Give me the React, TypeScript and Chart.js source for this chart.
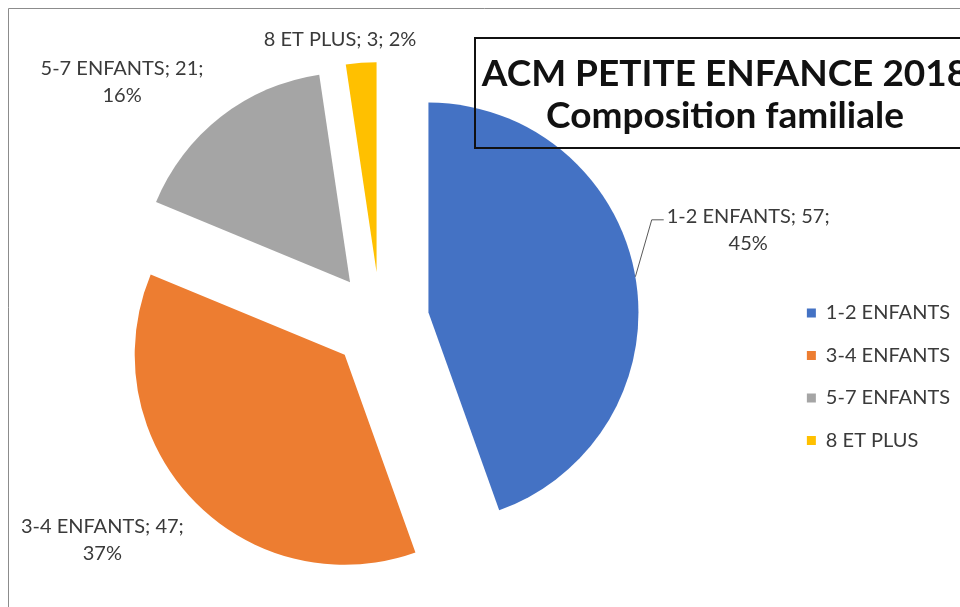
import React, { useEffect, useRef } from 'react';
import { Chart, registerables, ArcElement, PieController } from 'chart.js';

Chart.register(...registerables);

// ---------- data ----------
const CATEGORIES = ['1-2 ENFANTS', '3-4 ENFANTS', '5-7 ENFANTS', '8 ET PLUS'];
const VALUES = [57, 47, 21, 3];
const COLORS = ['#4472C4', '#ED7D31', '#A5A5A5', '#FFC000'];
const TITLE_LINES = ['ACM PETITE ENFANCE 2018', 'Composition familiale'];
const LABEL_TWO_LINES = [true, true, true, false];
const LABEL_LEADER = [true, false, false, false];

// ---------- layout / style ----------
const W = 960;
const H = 607;
const SHIFT = 40; // canvas extends 40px to the left of the page
const CW = W + SHIFT;
const PIE_RADIUS = 210;
const EXPLODE = 49;
const LABEL_DIST = [379, 354, 352, 284];
const LABEL_ANGLE_SHIFT = [-4, 5.3, -9.2, -3.9];
const FONT = 'Lato, "Open Sans", sans-serif';
const TEXT_COLOR = '#3a3a3a';

class ExplodedArc extends ArcElement {
  static id = 'explodedArc';
  draw(ctx: CanvasRenderingContext2D) {
    const self: any = this;
    const { x, y, startAngle, endAngle, outerRadius, options } = self;
    const off = options.offset || 0;
    const mid = (startAngle + endAngle) / 2;
    const cx = x + Math.cos(mid) * off;
    const cy = y + Math.sin(mid) * off;
    ctx.save();
    ctx.beginPath();
    ctx.moveTo(cx, cy);
    ctx.arc(cx, cy, outerRadius, startAngle, endAngle);
    ctx.closePath();
    ctx.fillStyle = options.backgroundColor;
    ctx.fill();
    ctx.restore();
  }
}

class ExplodedPieController extends PieController {
  static id = 'explodedPie';
  static defaults = { dataElementType: 'explodedArc' };
}

Chart.register(ExplodedArc as any, ExplodedPieController as any);

const framePlugin = {
  id: 'frame',
  beforeDraw(chart: any) {
    const ctx = chart.ctx;
    ctx.save();
    ctx.fillStyle = '#ffffff';
    ctx.fillRect(0, 0, CW, H);
    ctx.strokeStyle = '#8c8c8c';
    ctx.lineWidth = 1;
    ctx.beginPath();
    ctx.moveTo(SHIFT + 8.5, H);
    ctx.lineTo(SHIFT + 8.5, 8.5);
    ctx.lineTo(CW, 8.5);
    ctx.stroke();
    ctx.restore();
  },
};

const labelsPlugin = {
  id: 'sliceLabels',
  afterDatasetsDraw(chart: any) {
    const ctx = chart.ctx;
    const meta = chart.getDatasetMeta(0);
    const total = VALUES.reduce((a, b) => a + b, 0);
    ctx.save();
    ctx.font = `20px ${FONT}`;
    ctx.fillStyle = TEXT_COLOR;
    ctx.textAlign = 'center';
    ctx.textBaseline = 'middle';
    meta.data.forEach((arc: any, i: number) => {
      const { x, y, startAngle, endAngle, outerRadius } = arc;
      const mid = (startAngle + endAngle) / 2;
      const a = mid + (LABEL_ANGLE_SHIFT[i] * Math.PI) / 180;
      const cx = x + Math.cos(a) * LABEL_DIST[i];
      const cy = y + Math.sin(a) * LABEL_DIST[i];
      const pct = Math.round((VALUES[i] / total) * 100) + '%';
      const lines = LABEL_TWO_LINES[i]
        ? [`${CATEGORIES[i]}; ${VALUES[i]};`, pct]
        : [`${CATEGORIES[i]}; ${VALUES[i]}; ${pct}`];
      const lh = 27;
      const y0 = cy - ((lines.length - 1) * lh) / 2;
      lines.forEach((t, k) => ctx.fillText(t, cx, y0 + k * lh));
      if (LABEL_LEADER[i]) {
        const w0 = ctx.measureText(lines[0]).width;
        const lx = cx - w0 / 2 - 3;
        const ly = y0 + 3;
        const ex = x + Math.cos(mid) * (EXPLODE + outerRadius);
        const ey = y + Math.sin(mid) * (EXPLODE + outerRadius);
        ctx.strokeStyle = '#595959';
        ctx.lineWidth = 1;
        ctx.beginPath();
        ctx.moveTo(ex, ey);
        ctx.lineTo(lx - 12, ly);
        ctx.lineTo(lx, ly);
        ctx.stroke();
      }
    });
    ctx.restore();
  },
};

const titlePlugin = {
  id: 'boxTitle',
  afterDraw(chart: any) {
    const ctx = chart.ctx;
    ctx.save();
    ctx.strokeStyle = '#111111';
    ctx.lineWidth = 2;
    ctx.strokeRect(SHIFT + 475, 38, 510, 110);
    ctx.fillStyle = '#111111';
    ctx.font = `bold 37px ${FONT}`;
    ctx.textAlign = 'center';
    ctx.textBaseline = 'alphabetic';
    ctx.fillText(TITLE_LINES[0], SHIFT + 725, 86);
    ctx.fillText(TITLE_LINES[1], SHIFT + 725, 128);
    ctx.restore();
  },
};

export default function App() {
  const ref = useRef<HTMLCanvasElement | null>(null);
  useEffect(() => {
    if (!ref.current) return;
    const chart = new Chart(ref.current, {
      type: 'explodedPie' as any,
      data: {
        labels: CATEGORIES,
        datasets: [
          {
            data: VALUES,
            backgroundColor: COLORS,
            borderWidth: 0,
            offset: EXPLODE,
          } as any,
        ],
      },
      options: {
        animation: false,
        responsive: false,
        devicePixelRatio: 1,
        radius: PIE_RADIUS,
        layout: { padding: { left: 16, right: 0, top: 169, bottom: 134 } },
        plugins: {
          legend: {
            display: true,
            position: 'right',
            align: 'end',
            labels: {
              boxWidth: 9,
              boxHeight: 9,
              padding: 22.5,
              color: TEXT_COLOR,
              font: { family: FONT, size: 20 },
            },
          },
          tooltip: { enabled: false },
          title: { display: false },
        },
      } as any,
      plugins: [framePlugin, labelsPlugin, titlePlugin],
    });
    return () => chart.destroy();
  }, []);
  return (
    <div style={{ position: 'fixed', left: -SHIFT, top: 0, width: CW, height: H }}>
      <canvas ref={ref} width={CW} height={H} style={{ width: CW, height: H, display: 'block' }} />
    </div>
  );
}
